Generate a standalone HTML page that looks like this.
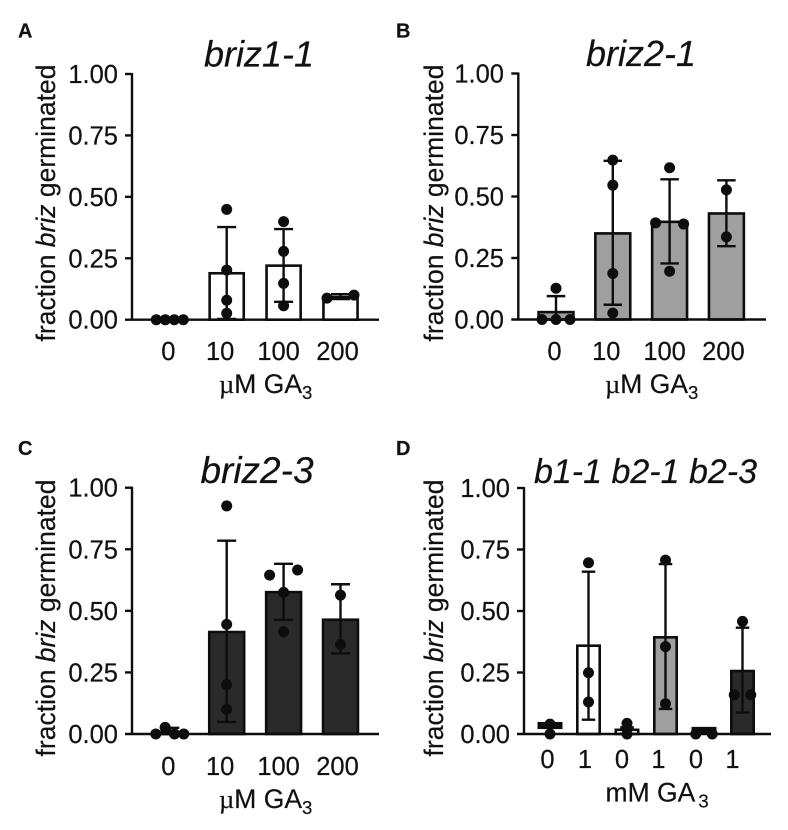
<!DOCTYPE html>
<html lang="en">
<head>
<meta charset="utf-8">
<title>Fraction briz germinated</title>
<style>
html,body{margin:0;padding:0;background:#fff;}
svg{display:block;filter:blur(0.35px);}
text{font-family:"Liberation Sans",Arial,sans-serif;fill:#111;stroke:#111;stroke-width:0.2px;}
.letter{font-size:20px;font-weight:700;}
.title{font-size:36px;font-style:italic;text-anchor:middle;}
.ytitle{font-size:26.5px;text-anchor:middle;}
.xtitle{font-size:26.5px;}
.tick{font-size:25.5px;}
.mu{font-family:"Liberation Serif",serif;}
</style>
</head>
<body>
<svg id="figure" width="788" height="830" viewBox="0 0 788 830" xmlns="http://www.w3.org/2000/svg">
<rect width="788" height="830" fill="#fff"/>

<g id="panel-a">
<text class="letter" x="18" y="37.5">A</text>
<text class="title" x="259" y="66.5">briz1-1</text>
<text class="ytitle" transform="translate(55 203) rotate(-90)">fraction <tspan font-style="italic">briz</tspan> germinated</text>
<text class="xtitle" x="219" y="393"><tspan class="mu">µ</tspan>M GA<tspan font-size="18.5" dy="6">3</tspan></text>
</g>

<g id="panel-b">
<text class="letter" x="396" y="37.5">B</text>
<text class="title" x="641" y="66">briz2-1</text>
<text class="ytitle" transform="translate(443 203) rotate(-90)">fraction <tspan font-style="italic">briz</tspan> germinated</text>
<text class="xtitle" x="605" y="393"><tspan class="mu">µ</tspan>M GA<tspan font-size="18.5" dy="6">3</tspan></text>
</g>

<g id="panel-c">
<text class="letter" x="18" y="455">C</text>
<text class="title" x="257" y="483" style="font-size:37px">briz2-3</text>
<text class="ytitle" transform="translate(55 618) rotate(-90)">fraction <tspan font-style="italic">briz</tspan> germinated</text>
<text class="xtitle" x="219" y="808"><tspan class="mu">µ</tspan>M GA<tspan font-size="18.5" dy="6">3</tspan></text>
</g>

<g id="panel-d">
<text class="letter" x="396" y="455">D</text>
<text class="title" x="645.5" y="483" style="font-size:34px">b1-1 b2-1 b2-3</text>
<text class="ytitle" transform="translate(443 618) rotate(-90)">fraction <tspan font-style="italic">briz</tspan> germinated</text>
<text class="xtitle" x="605.5" y="801.5">mM GA<tspan font-size="18.5" dx="3" dy="6">3</tspan></text>
</g>
</svg>

<script>
const yTickValues = [0, 0.25, 0.5, 0.75, 1];
const yTickLabels = ['0.00', '0.25', '0.50', '0.75', '1.00'];

const panelACategories = ['0', '10', '100', '200'];
const panelAMeans = [0, 0.189, 0.22, 0.092];
const panelAUpper = [0, 0.377, 0.369, 0.104];
const panelALower = [0, 0.003, 0.073, 0.084];
const panelAPoints = [[0, 0, 0, 0], [0.449, 0.202, 0.079, 0.026], [0.399, 0.278, 0.148, 0.057], [0.088, 0.1]];

const panelBCategories = ['0', '10', '100', '200'];
const panelBMeans = [0.03, 0.35, 0.397, 0.431];
const panelBUpper = [0.095, 0.645, 0.57, 0.566];
const panelBLower = [0, 0.06, 0.228, 0.298];
const panelBPoints = [[0.127, 0, 0, 0], [0.648, 0.546, 0.187, 0.026], [0.617, 0.393, 0.388, 0.196], [0.527, 0.336]];

const panelCCategories = ['0', '10', '100', '200'];
const panelCMeans = [0.008, 0.414, 0.576, 0.464];
const panelCUpper = [0.025, 0.785, 0.691, 0.608];
const panelCLower = [0, 0.049, 0.463, 0.327];
const panelCPoints = [[0, 0.027, 0, 0], [0.926, 0.445, 0.2, 0.1], [0.645, 0.666, 0.575, 0.415], [0.564, 0.364]];

const panelDCategories = ['0', '1', '0', '1', '0', '1'];
const panelDMeans = [0.035, 0.359, 0.017, 0.393, 0.014, 0.256];
const panelDUpper = [0.049, 0.66, 0.027, 0.691, 0.029, 0.432];
const panelDLower = [0.02, 0.058, 0, 0.102, 0, 0.087];
const panelDPoints = [[0.04, 0], [0.696, 0.249, 0.13], [0.043, 0], [0.707, 0.355, 0.123], [0, 0], [0.458, 0.159, 0.159]];
const panelDSolidBars = [true, false, false, false, true, false];

const SVGNS = 'http://www.w3.org/2000/svg';
const INK = '#0d0d0d';
const WHITE = '#ffffff';
const GRAY = '#9f9f9f';
const DARK = '#2a2a2a';

function make(parent, tag, attrs) {
  const el = document.createElementNS(SVGNS, tag);
  for (const k in attrs) el.setAttribute(k, attrs[k]);
  parent.appendChild(el);
  return el;
}

/* Groups near-equal values and spreads each group evenly across the swarm width. */
function swarmOffsets(values, span) {
  const offsets = values.map(() => 0);
  const order = values.map((v, i) => i).sort((a, b) => values[a] - values[b]);
  let group = [];
  const flush = () => {
    if (group.length > 1) {
      const sorted = group.slice().sort((a, b) => a - b);
      sorted.forEach((idx, k) => { offsets[idx] = -span / 2 + span * k / (sorted.length - 1); });
    }
    group = [];
  };
  order.forEach((idx, k) => {
    if (k && values[idx] - values[order[k - 1]] > 0.035) flush();
    group.push(idx);
  });
  flush();
  return offsets;
}

function drawPanel(cfg) {
  const root = document.getElementById(cfg.id);
  const y = v => cfg.y0 - v * (cfg.y0 - cfg.y1);
  const x = i => cfg.x0 + i * cfg.step;

  cfg.means.forEach((mean, i) => {
    const cx = x(i);
    const solid = cfg.solid && cfg.solid[i];
    if (solid) {
      const block = make(root, 'rect', {x: cx - cfg.outerW / 2, y: y(cfg.upper[i]), width: cfg.outerW, height: y(cfg.lower[i]) - y(cfg.upper[i]), fill: INK});
      
      
    } else {
      if (mean > 0) {
        const w = cfg.outerW - cfg.barStroke;
        const bar = make(root, 'rect', {x: cx - w / 2, y: y(mean), width: w, height: cfg.y0 - y(mean), fill: cfg.fills[i], stroke: INK, 'stroke-width': cfg.barStroke});
        
        
      }
      if (cfg.upper[i] > cfg.lower[i]) {
        const err = make(root, 'path', {
          d: 'M' + cx + ' ' + y(cfg.lower[i]) + 'V' + y(cfg.upper[i]) +
             'M' + (cx - cfg.capW / 2) + ' ' + y(cfg.upper[i]) + 'H' + (cx + cfg.capW / 2) +
             'M' + (cx - cfg.capW / 2) + ' ' + y(cfg.lower[i]) + 'H' + (cx + cfg.capW / 2),
          fill: 'none', stroke: INK, 'stroke-width': 2.4});
        
        
      }
    }
  });

  const axes = make(root, 'path', {
    d: 'M' + cfg.axisX + ' ' + (cfg.y1 - 1) + 'V' + (cfg.y0 + 1) +
       'M' + (cfg.axisX - 7) + ' ' + cfg.y0 + 'H' + cfg.axisEnd,
    fill: 'none', stroke: INK, 'stroke-width': 2.4});
  
  

  yTickValues.forEach((v, i) => {
    if (v > 0) {
      const tick = make(root, 'line', {x1: cfg.axisX - 7, x2: cfg.axisX, y1: y(v), y2: y(v), stroke: INK, 'stroke-width': 2.4});
      
      
    }
    const label = make(root, 'text', {class: 'tick', x: cfg.yLabelX, y: y(v) + 9, 'text-anchor': 'end'});
    label.textContent = yTickLabels[i];
    
    
  });

  cfg.categories.forEach((c, i) => {
    const label = make(root, 'text', {class: 'tick', x: x(i) + cfg.labelDx[i], y: cfg.labelY, 'text-anchor': 'middle'});
    label.textContent = c;
    
    
  });

  cfg.points.forEach((vals, i) => {
    const offs = swarmOffsets(vals, cfg.span);
    vals.forEach((v, j) => {
      const dot = make(root, 'circle', {cx: x(i) + offs[j], cy: y(v), r: cfg.r, fill: INK});
      
      
    });
  });
}

drawPanel({id: 'panel-a', key: 'a', categories: panelACategories, means: panelAMeans, upper: panelAUpper, lower: panelALower, points: panelAPoints,
  fills: [WHITE, WHITE, WHITE, WHITE], x0: 169.8, step: 56.9, outerW: 36.7, barStroke: 2.6, capW: 19, r: 5.5, span: 27,
  axisX: 132, axisEnd: 379, y0: 319.7, y1: 74, yLabelX: 118, labelY: 360, labelDx: [-1.5, -6.5, -5, -3]});

drawPanel({id: 'panel-b', key: 'b', categories: panelBCategories, means: panelBMeans, upper: panelBUpper, lower: panelBLower, points: panelBPoints,
  fills: [GRAY, GRAY, GRAY, GRAY], x0: 556, step: 56.8, outerW: 37.5, barStroke: 2.6, capW: 18.5, r: 5.5, span: 28,
  axisX: 518.3, axisEnd: 766, y0: 319.5, y1: 73.5, yLabelX: 504, labelY: 360, labelDx: [-1.5, -6.5, -5, -3]});

drawPanel({id: 'panel-c', key: 'c', categories: panelCCategories, means: panelCMeans, upper: panelCUpper, lower: panelCLower, points: panelCPoints,
  fills: [DARK, DARK, DARK, DARK], x0: 169.8, step: 56.9, outerW: 37.5, barStroke: 2.6, capW: 19, r: 5.5, span: 28,
  axisX: 132, axisEnd: 379, y0: 734, y1: 487.7, yLabelX: 118, labelY: 775, labelDx: [-1.5, -6.5, -5, -3]});

drawPanel({id: 'panel-d', key: 'd', categories: panelDCategories, means: panelDMeans, upper: panelDUpper, lower: panelDLower, points: panelDPoints,
  solid: panelDSolidBars, fills: [WHITE, WHITE, WHITE, GRAY, WHITE, DARK], x0: 550, step: 38.5, outerW: 25, barStroke: 2.6, capW: 13.5, r: 5.5, span: 16.5,
  axisX: 524, axisEnd: 771, y0: 734, y1: 488, yLabelX: 510, labelY: 768, labelDx: [-2.5, -3.5, -5, -7, -8, -10]});
</script>
</body>
</html>
